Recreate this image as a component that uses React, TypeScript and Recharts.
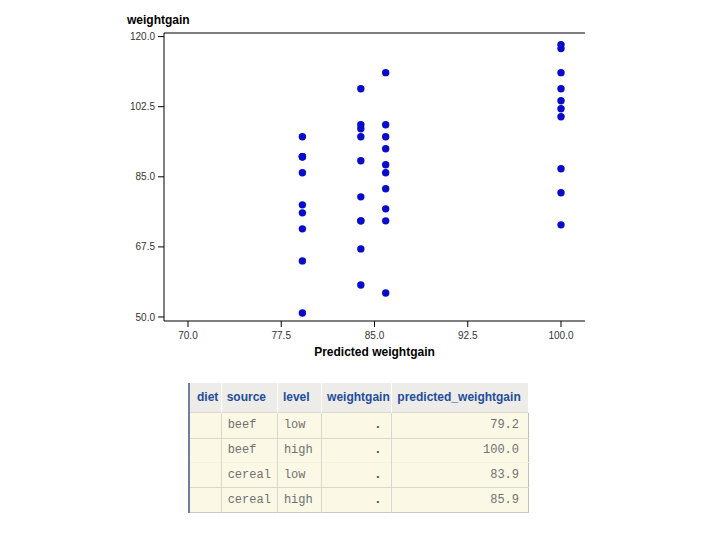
import React from 'react';
import { ScatterChart, Scatter, XAxis, YAxis, ReferenceLine } from 'recharts';

// Observed weight gain by diet group
const groupSources = ['beef', 'beef', 'cereal', 'cereal'];
const groupLevels = ['low', 'high', 'low', 'high'];
const predictedWeightgain = [79.2, 100.0, 83.9, 85.9];
const beefLow = [90, 76, 90, 64, 86, 51, 72, 90, 95, 78];
const beefHigh = [73, 102, 118, 104, 81, 107, 100, 87, 117, 111];
const cerealLow = [107, 95, 97, 80, 98, 74, 74, 67, 89, 58];
const cerealHigh = [98, 74, 56, 111, 95, 88, 82, 77, 86, 92];
const observedWeightgain = ['.', '.', '.', '.'];

const xTicks = [70, 77.5, 85, 92.5, 100];
const yTicks = [50, 67.5, 85, 102.5, 120];
const xDomain = [68.07, 101.93];
const yDomain = [49.0, 120.9];

const groups = [beefLow, beefHigh, cerealLow, cerealHigh];
const points = groups.flatMap((g, i) => g.map((w) => ({ x: predictedWeightgain[i], y: w })));

const FONT = '"Liberation Sans", Arial, sans-serif';
const MONO = '"Liberation Mono", "Courier New", monospace';
const DOT = '#0A0ACC';

const Dot = (props: any) => {
  const { cx, cy } = props;
  if (cx == null || cy == null) return null;
  return <circle cx={cx} cy={cy} r={3.7} fill={DOT} stroke="none" />;
};

const headers = ['diet', 'source', 'level', 'weightgain', 'predicted_weightgain'];
const colWidths = [32, 56, 44, 70, 136];

export default function App() {
  const tickStyle = { fill: '#333', fontSize: 10, fontFamily: FONT };
  const cellBase: React.CSSProperties = {
    padding: '0 6px',
    boxSizing: 'border-box',
    borderRight: '1px solid #D9D8CF',
    whiteSpace: 'nowrap',
    overflow: 'hidden',
  };
  const bodyText: React.CSSProperties = { fontFamily: MONO, fontSize: 12, color: '#707070' };
  return (
    <div style={{ position: 'absolute', left: 0, top: 0, width: 720, height: 540, background: '#fff' }}>
      <ScatterChart width={720} height={370} margin={{ top: 33, right: 135, bottom: 0, left: 0 }}>
        <XAxis
          type="number"
          dataKey="x"
          domain={xDomain}
          ticks={xTicks}
          allowDataOverflow
          tickFormatter={(v: number) => v.toFixed(1)}
          tick={tickStyle}
          tickSize={6}
          tickMargin={5}
          height={49}
          axisLine={{ stroke: '#000' }}
          tickLine={{ stroke: '#000' }}
          label={{
            content: (p: any) => {
              const vb = p.viewBox || { x: 164, y: 321, width: 421 };
              return (
                <text
                  x={vb.x + vb.width / 2}
                  y={vb.y + 35}
                  textAnchor="middle"
                  fontSize={12}
                  fontWeight="bold"
                  fontFamily={FONT}
                  fill="#000"
                >
                  Predicted weightgain
                </text>
              );
            },
          }}
        />
        <YAxis
          type="number"
          dataKey="y"
          domain={yDomain}
          ticks={yTicks}
          allowDataOverflow
          tickFormatter={(v: number) => v.toFixed(1)}
          tick={tickStyle}
          tickSize={6}
          tickMargin={3}
          width={164}
          axisLine={{ stroke: '#000' }}
          tickLine={{ stroke: '#000' }}
          label={{
            content: (p: any) => {
              const vb = p.viewBox || { x: 0, y: 33 };
              return (
                <text
                  x={vb.x + 127}
                  y={vb.y - 9}
                  textAnchor="start"
                  fontSize={12}
                  fontWeight="bold"
                  fontFamily={FONT}
                  fill="#000"
                >
                  weightgain
                </text>
              );
            },
          }}
        />
        <ReferenceLine y={yDomain[1]} stroke="#000" strokeWidth={1} ifOverflow="extendDomain" />
        <Scatter data={points} shape={<Dot />} isAnimationActive={false} />
      </ScatterChart>

      <table
        style={{
          position: 'absolute',
          left: 188,
          top: 383,
          width: 341,
          borderCollapse: 'collapse',
          tableLayout: 'fixed',
          borderLeft: '2px solid #6E7EA2',
          borderBottom: '1px solid #C9C9C0',
          borderRight: '1px solid #BFBFB8',
        }}
      >
        <colgroup>
          {colWidths.map((w, i) => (
            <col key={i} style={{ width: w }} />
          ))}
        </colgroup>
        <thead>
          <tr style={{ height: 29, background: '#EDECE8' }}>
            {headers.map((h, i) => (
              <th
                key={h}
                style={{
                  ...cellBase,
                  padding: i === 0 ? '0 2px 0 7px' : '0 3px 0 5px',
                  textAlign: 'left',
                  fontFamily: FONT,
                  fontSize: 12,
                  fontWeight: 'bold',
                  color: '#1F4C9C',
                  borderRight: '1px solid #FFFFFF',
                  overflow: 'visible',
                }}
              >
                {h}
              </th>
            ))}
          </tr>
        </thead>
        <tbody>
          {groupSources.map((s, i) => (
            <tr
              key={i}
              style={{
                height: i === 0 ? 26 : i === 1 ? 24 : 25,
                background: '#FBF9E6',
                borderTop: i === 2 ? '1px solid #F4F2E2' : '1px solid #D9D8CF',
              }}
            >
              <td style={cellBase}></td>
              <td style={{ ...cellBase, ...bodyText }}>{s}</td>
              <td style={{ ...cellBase, ...bodyText }}>{groupLevels[i]}</td>
              <td
                style={{
                  ...cellBase,
                  ...bodyText,
                  color: '#444',
                  textAlign: 'right',
                  paddingRight: 10,
                  fontWeight: 'bold',
                }}
              >
                {observedWeightgain[i]}
              </td>
              <td
                style={{
                  ...cellBase,
                  ...bodyText,
                  textAlign: 'right',
                  paddingRight: 9,
                  borderRight: 'none',
                }}
              >
                {predictedWeightgain[i].toFixed(1)}
              </td>
            </tr>
          ))}
        </tbody>
      </table>
    </div>
  );
}
